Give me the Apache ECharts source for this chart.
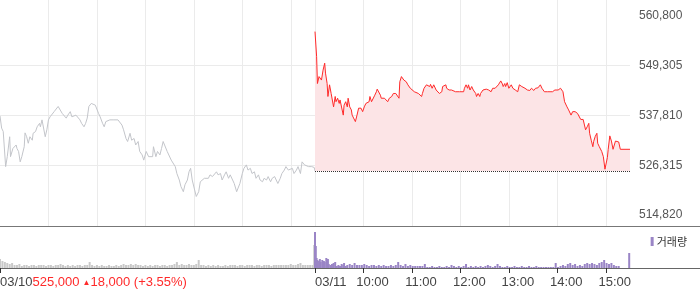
<!DOCTYPE html>
<html><head><meta charset="utf-8">
<script src="https://cdn.jsdelivr.net/npm/echarts@6/dist/echarts.min.js"></script>
<style>html,body{margin:0;padding:0;background:#fff}#c{width:700px;height:289px}</style>
</head><body><div id="c"></div>
<script>
// x values are minutes: 03/10 09:00 = 0, 03/10 15:30 = 390 = 03/11 09:00, 03/11 15:30 = 780
const day1Price = [[0,537700],[2,534900],[4,534100],[7,526000],[9,528300],[12,532900],[13,528300],[15,527900],[16,530200],[18,530600],[20,531000],[21,530200],[23,529500],[25,527100],[27,528300],[30,530600],[31,533800],[33,532900],[35,531400],[37,532900],[40,532100],[41,533700],[44,534100],[46,535200],[49,536000],[50,535200],[52,536800],[54,536400],[56,532900],[58,534500],[60,536800],[62,537500],[64,537900],[67,538700],[69,538300],[72,539900],[74,539500],[77,538300],[79,538700],[82,537200],[84,537900],[87,538700],[89,537500],[91,537900],[94,537900],[96,537900],[99,536800],[101,536000],[104,535200],[106,536000],[108,537200],[110,539900],[113,540600],[115,540600],[118,540200],[120,539900],[122,538300],[124,537500],[127,536000],[129,535200],[131,536400],[133,536000],[136,536800],[138,536400],[141,536800],[143,536400],[146,536800],[148,536400],[151,535600],[153,534500],[156,532500],[158,531800],[161,533700],[163,532100],[166,532500],[168,531000],[171,531800],[173,529500],[176,528700],[178,527500],[180,527100],[181,529500],[184,528300],[186,528700],[189,528300],[190,530600],[193,528300],[195,529500],[198,528700],[200,530200],[202,531800],[204,531400],[207,529500],[209,529100],[212,527500],[214,527100],[217,526000],[219,524400],[222,522900],[224,521400],[227,520200],[229,521800],[232,522900],[234,524800],[236,525600],[238,522900],[241,520600],[243,519100],[246,520200],[248,522500],[250,522900],[253,523300],[255,523700],[258,523300],[260,524100],[263,523700],[265,524100],[268,524800],[270,524100],[273,524400],[275,522900],[278,524100],[280,524800],[283,523300],[285,524100],[288,522900],[290,522100],[293,520200],[295,519800],[297,522100],[300,524400],[302,525600],[305,526400],[307,525200],[310,525600],[312,524400],[315,524800],[317,523300],[320,524100],[322,522900],[325,522500],[327,523300],[330,522900],[332,523700],[335,522500],[337,523300],[340,523700],[342,523300],[344,522100],[347,523300],[349,524400],[352,525200],[354,526000],[357,525200],[359,524800],[362,525600],[364,524400],[367,525200],[369,526000],[372,524400],[374,527100],[377,526400],[379,526400],[382,526000],[384,526000],[386,526000],[389,525800],[390,525000]];

const day2Price = [[390,557200],[392,551400],[393,545200],[395,546800],[397,546800],[398,546000],[400,548300],[402,549900],[403,547600],[405,545200],[406,542200],[408,544900],[410,542900],[411,543300],[413,539800],[415,542200],[416,541000],[418,541800],[420,540600],[421,541400],[423,541800],[425,537900],[426,540200],[428,541000],[430,539800],[431,541800],[433,539800],[435,539100],[436,537900],[438,537500],[440,536400],[442,537900],[444,539500],[445,539800],[447,539500],[449,538700],[451,539800],[453,540600],[454,540600],[457,541000],[458,542200],[460,541000],[462,541000],[464,542500],[466,543300],[467,543900],[469,543600],[471,542500],[472,541800],[474,541400],[476,541800],[477,541400],[480,541000],[482,541800],[485,542200],[487,542900],[490,542900],[492,542900],[494,541800],[495,545600],[497,546800],[499,546400],[500,546000],[503,545600],[505,544900],[508,544100],[510,543700],[513,543300],[515,542900],[518,542900],[520,542500],[522,542200],[523,542900],[525,544100],[527,544500],[528,544900],[530,544900],[532,544500],[533,545000],[535,544100],[537,544900],[538,544500],[540,543700],[542,543700],[544,542900],[547,543300],[548,544500],[550,544900],[552,544900],[553,544100],[555,544500],[556,543700],[559,543700],[561,543700],[564,543300],[566,543300],[569,543300],[571,543300],[574,543300],[575,544100],[577,544900],[579,544100],[580,544900],[582,543700],[584,544500],[586,543700],[589,542900],[590,542200],[592,542900],[594,542200],[595,542900],[597,543300],[598,543700],[600,543300],[602,543900],[603,544100],[605,543700],[607,543700],[608,543300],[610,544100],[612,543700],[613,544100],[615,544500],[617,544900],[618,545200],[620,545800],[622,545100],[623,544500],[625,545200],[626,544500],[628,545400],[630,544100],[631,544500],[633,544900],[635,544100],[636,543700],[638,543700],[640,543900],[641,543300],[643,544900],[645,545200],[646,544500],[648,544900],[650,544100],[651,543700],[653,543700],[655,544100],[656,543600],[658,544100],[659,543700],[661,543600],[663,544100],[664,543700],[666,544200],[668,544500],[669,544900],[671,544100],[673,543700],[674,543300],[676,543700],[678,543300],[679,543700],[681,543300],[683,543700],[684,543300],[686,543600],[687,543700],[689,543300],[691,543700],[692,543700],[694,544100],[696,543700],[697,543300],[699,541000],[701,540600],[702,539800],[704,539100],[706,538700],[707,537900],[709,538700],[711,538300],[712,538700],[714,538300],[715,538300],[717,537900],[719,536900],[720,537200],[722,536900],[724,536800],[725,534500],[727,535200],[729,536000],[730,533700],[732,532100],[734,530600],[735,531800],[737,533000],[739,533700],[740,531400],[742,530600],[744,531000],[745,529500],[747,528300],[749,525400],[750,525000],[752,528100],[753,530000],[755,533100],[757,531900],[759,530000],[762,531900],[764,532100],[766,531700],[768,530000],[780,530000]];

const prevClose = 525000;

const day1Volume = [[0,9],[3,7],[6,6],[9,5],[12,4],[15,5],[18,3],[21,3],[24,4],[27,2],[30,3],[33,3],[36,2],[39,3],[42,3],[45,2],[48,3],[51,3],[54,3],[57,2],[60,3],[63,3],[66,2],[69,3],[72,3],[75,4],[78,3],[81,2],[84,3],[87,2],[90,3],[93,2],[96,3],[99,3],[102,2],[105,3],[108,3],[111,6],[114,3],[117,2],[120,3],[123,2],[126,3],[129,2],[132,2],[135,3],[138,2],[141,2],[144,3],[147,2],[150,3],[153,4],[156,3],[159,3],[162,4],[165,3],[168,4],[171,3],[174,3],[177,2],[180,3],[183,2],[186,3],[189,2],[192,3],[195,3],[198,2],[201,3],[204,3],[207,2],[210,3],[213,3],[216,4],[219,6],[222,3],[225,4],[228,3],[231,3],[234,4],[237,3],[240,3],[243,4],[246,8],[249,3],[252,3],[255,2],[258,3],[261,2],[264,3],[267,2],[270,3],[273,2],[276,2],[279,3],[282,2],[285,3],[288,3],[291,3],[294,2],[297,3],[300,3],[303,2],[306,3],[309,3],[312,3],[315,2],[318,3],[321,3],[324,2],[327,3],[330,3],[333,3],[336,2],[339,3],[342,3],[345,3],[348,3],[351,3],[354,3],[357,3],[360,4],[363,3],[366,3],[369,4],[372,5],[375,3],[378,3],[381,3],[384,3],[387,3],[389,23]];

const day2Volume = [[390,36],[391,22],[392,10],[393,8],[395,7],[396,9],[397,6],[399,8],[401,7],[402,6],[404,10],[406,9],[407,4],[409,3],[411,4],[413,5],[415,6],[417,2],[419,3],[421,2],[423,4],[425,3],[426,5],[428,2],[430,3],[433,4],[436,3],[439,5],[442,3],[445,3],[448,3],[451,4],[454,3],[457,2],[460,3],[463,3],[466,2],[469,3],[472,2],[475,3],[478,2],[481,2],[484,3],[487,2],[490,3],[493,6],[496,3],[499,2],[502,4],[505,2],[508,3],[511,2],[514,2],[517,2],[520,2],[523,2],[526,4],[529,1],[532,1],[535,2],[538,1],[541,1],[544,2],[547,1],[550,1],[553,2],[556,1],[559,3],[562,2],[565,1],[568,2],[571,1],[574,2],[577,4],[580,1],[583,2],[586,1],[589,2],[592,1],[595,2],[598,1],[601,2],[604,3],[607,2],[610,1],[613,2],[616,4],[619,2],[622,1],[625,1],[628,2],[631,1],[634,1],[637,2],[640,1],[643,1],[646,2],[649,1],[652,1],[655,2],[658,1],[661,1],[664,2],[667,1],[670,1],[673,1],[676,1],[679,1],[682,1],[685,1],[688,5],[691,1],[694,2],[697,3],[700,2],[703,4],[706,5],[709,3],[712,4],[715,2],[718,3],[721,2],[724,4],[727,5],[730,4],[733,5],[736,4],[739,3],[742,5],[745,6],[748,8],[751,5],[754,4],[757,5],[760,3],[763,2],[766,2],[779,15]];

const xTickMinutes = [0, 390, 450, 510, 570, 630, 690, 750];
const xTickLabels = ['03/10', '03/11', '10:00', '11:00', '12:00', '13:00', '14:00', '15:00'];
const gridMinutes = [60, 120, 180, 240, 300, 360, 390, 450, 510, 570, 630, 690, 750];
const yTickValues = [514820, 526315, 537810, 549305, 560800];
const yGridValues = [526315, 537810, 549305];
const day1Close = '525,000';
const day1Change = '18,000 (+3.55%)';
const volumeName = '거래량';

const FONT = '"Liberation Sans", Arial, sans-serif';
function textW(s, size) {
  const c = document.createElement('canvas').getContext('2d');
  c.font = size + 'px "Liberation Sans"';
  return c.measureText(s).width;
}
const wDate = textW('03/10', 13);
const wPad0 = wDate + textW(day1Close, 13) + textW('▲', 8) + 3 + textW(day1Change, 13);
const wPad1 = textW('03/11', 13);

const RED = '#ff2a2a';
const chart = echarts.init(document.getElementById('c'), null, {renderer: 'canvas'});
chart.setOption({
  animation: false,
  backgroundColor: '#fff',
  textStyle: {fontFamily: FONT},
  legend: {
    data: [volumeName], right: 8, top: 231, itemWidth: 3, itemHeight: 9, itemGap: 4,
    icon: 'rect', textStyle: {fontSize: 11, color: '#333', fontFamily: '"Noto Sans CJK KR", sans-serif', padding: [0, 0, 0, -2]}
  },
  grid: [
    {left: 0, top: 0, width: 630, height: 226, containLabel: false, outerBoundsMode: 'none'},
    {left: 0, top: 226, width: 700, height: 42, containLabel: false, outerBoundsMode: 'none'}
  ],
  xAxis: [
    {gridIndex: 0, type: 'value', min: 0, max: 780,
      axisLine: {show: false}, axisTick: {show: false, customValues: gridMinutes},
      axisLabel: {show: false, customValues: gridMinutes},
      splitLine: {show: true, lineStyle: {color: '#ebebeb', width: 1}}},
    {gridIndex: 1, type: 'value', min: 0, max: 780 * 700 / 630, position: 'bottom',
      axisLine: {show: true, lineStyle: {color: '#666', width: 1}},
      axisTick: {show: true, customValues: xTickMinutes, length: 5, lineStyle: {color: '#333'}},
      axisLabel: {customValues: xTickMinutes, showMinLabel: true, margin: 8, hideOverlap: false,
        formatter: function (v) {
          const i = xTickMinutes.indexOf(v);
          if (i === 0) return '{pad0| }{d|' + xTickLabels[0] + '}{r|' + day1Close + '}{t|▲}{r|' + day1Change + '}';
          if (i === 1) return '{pad1| }{d|' + xTickLabels[1] + '}';
          return i >= 0 ? '{sp| }{d|' + xTickLabels[i] + '}' : '';
        },
        rich: {
          pad0: {width: wPad0, fontSize: 13},
          pad1: {width: wPad1, fontSize: 13},
          sp: {width: 18, fontSize: 13},
          d: {fontSize: 13, color: '#444', fontFamily: FONT},
          r: {fontSize: 13, color: RED, fontFamily: FONT},
          t: {fontSize: 8, color: RED, padding: [0, 0, 0, 3], fontFamily: FONT}
        }},
      splitLine: {show: false}},
    {gridIndex: 1, type: 'value', min: 0, max: 780 * 700 / 630, position: 'top',
      axisLine: {show: true, onZero: false, lineStyle: {color: '#777', width: 1}},
      axisTick: {show: false}, axisLabel: {show: false}, splitLine: {show: false}}
  ],
  yAxis: [
    {gridIndex: 0, type: 'value', position: 'right', min: 512278, max: 564497, scale: true,
      axisLine: {show: false},
      axisTick: {show: false, customValues: yGridValues},
      axisLabel: {customValues: yTickValues, margin: 9, fontSize: 12, color: '#555', fontFamily: FONT,
        formatter: v => v.toLocaleString('en-US')},
      splitLine: {show: true, lineStyle: {color: '#ebebeb', width: 1}}},
    {gridIndex: 1, type: 'value', min: 0, max: 42, show: false, splitLine: {show: false}}
  ],
  series: [
    {name: '전일', type: 'line', xAxisIndex: 0, yAxisIndex: 0, data: day1Price, symbol: 'none',
      lineStyle: {color: '#c3c5ca', width: 1}, z: 3},
    {name: '당일', type: 'line', xAxisIndex: 0, yAxisIndex: 0, data: day2Price, symbol: 'none',
      lineStyle: {color: RED, width: 1}, z: 4,
      areaStyle: {color: '#fce4e6', origin: prevClose, opacity: 1},
      markLine: {silent: true, symbol: ['none', 'none'], label: {show: false},
        lineStyle: {type: 'dotted', color: '#333', width: 1},
        data: [[{coord: [390, prevClose]}, {coord: [780, prevClose]}]]}},
    {name: '전일거래량', type: 'bar', xAxisIndex: 1, yAxisIndex: 1, data: day1Volume,
      barWidth: 2, barGap: '-100%', itemStyle: {color: '#c9c9c9'}},
    {name: volumeName, type: 'bar', xAxisIndex: 1, yAxisIndex: 1, data: day2Volume,
      barWidth: 2, barGap: '-100%', itemStyle: {color: '#9a85c6'}}
  ]
});
</script></body></html>
